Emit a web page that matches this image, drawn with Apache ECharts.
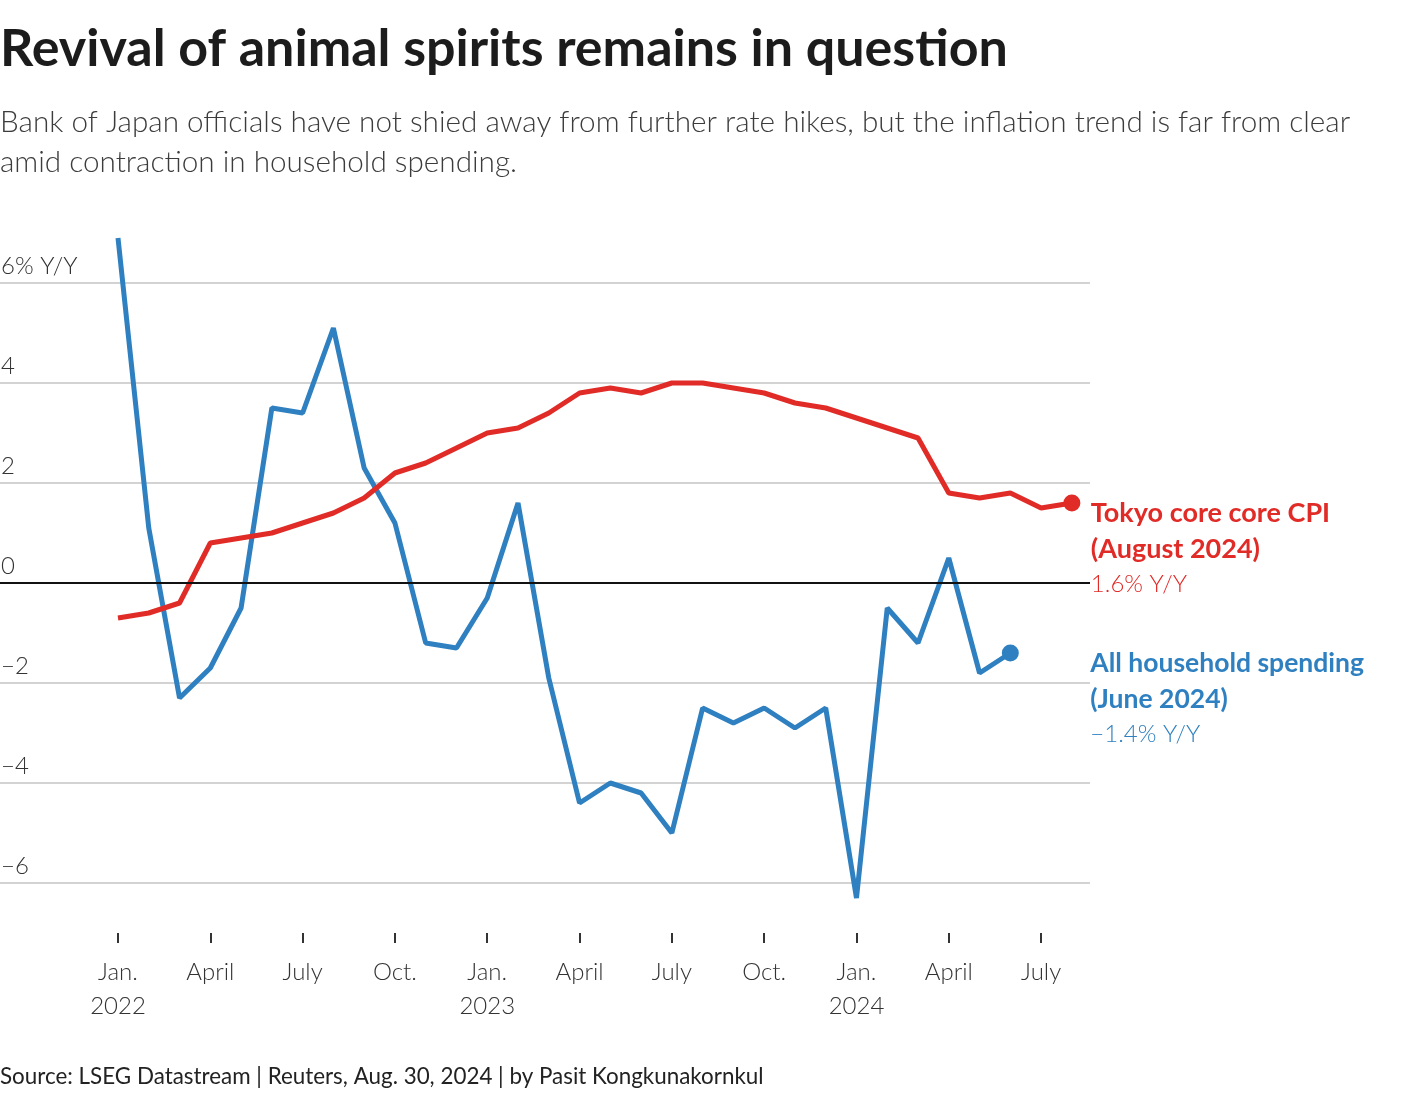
<!DOCTYPE html>
<html>
<head>
<meta charset="utf-8">
<title>Revival of animal spirits remains in question</title>
<script src="https://cdn.jsdelivr.net/npm/echarts@6/dist/echarts.min.js"></script>
<style>
  html, body { margin: 0; padding: 0; background: #fff; }
  #main { width: 1420px; height: 1100px; }
</style>
</head>
<body>
<div id="main"></div>
<script>
// months from Jan. 2022 (index 0) to Aug. 2024 (index 31)
var cpiValues = [
  -0.7, -0.6, -0.4, 0.8, 0.9, 1.0, 1.2, 1.4, 1.7, 2.2, 2.4, 2.7,
  3.0, 3.1, 3.4, 3.8, 3.9, 3.8, 4.0, 4.0, 3.9, 3.8, 3.6, 3.5,
  3.3, 3.1, 2.9, 1.8, 1.7, 1.8, 1.5, 1.6
]
// Jan. 2022 to June 2024
var spendingValues = [
  6.9, 1.1, -2.3, -1.7, -0.5, 3.5, 3.4, 5.1, 2.3, 1.2, -1.2, -1.3,
  -0.3, 1.6, -1.9, -4.4, -4.0, -4.2, -5.0, -2.5, -2.8, -2.5, -2.9, -2.5,
  -6.3, -0.5, -1.2, 0.5, -1.8, -1.4
]
var tickMonths = [0, 3, 6, 9, 12, 15, 18, 21, 24, 27, 30]
var tickLabels = ['Jan.\n2022', 'April', 'July', 'Oct.', 'Jan.\n2023', 'April', 'July', 'Oct.', 'Jan.\n2024', 'April', 'July']
var yTicks = [-6, -4, -2, 0, 2, 4, 6]

var RED = '#e02b27'
var BLUE = '#2f80c0'
var FONT = 'Lato'

function toPoints (values) {
  return values.map(function (v, i) { return [i, v] })
}

function fmtPct (v) {
  return (v < 0 ? '\u2212' + Math.abs(v) : String(v)) + '% Y/Y'
}

// last point gets a dot
function withEndDot (values) {
  var pts = toPoints(values)
  return pts.map(function (p, i) {
    if (i === pts.length - 1) return { value: p, symbol: 'circle', symbolSize: 17 }
    return { value: p, symbol: 'none' }
  })
}

var chart = echarts.init(document.getElementById('main'))

chart.setOption({
  animation: false,
  textStyle: { fontFamily: FONT },
  title: [{
    text: 'Revival of animal spirits remains in question',
    left: 0,
    top: 23,
    padding: 0,
    textStyle: { fontSize: 52, fontWeight: 'bold', color: '#1c1c1c', fontFamily: FONT }
  }, {
    text: 'Bank of Japan officials have not shied away from further rate hikes, but the inflation trend is far from clear\namid contraction in household spending.',
    left: 0,
    top: 102,
    padding: 0,
    textStyle: { fontSize: 29.7, fontWeight: 300, color: '#3c3c3c', lineHeight: 40, fontFamily: FONT }
  }, {
    text: 'Source: LSEG Datastream | Reuters, Aug. 30, 2024 | by Pasit Kongkunakornkul',
    left: 0,
    top: 1066,
    padding: 0,
    textStyle: { fontSize: 22.4, fontWeight: 'normal', color: '#222', fontFamily: FONT }
  }],
  grid: { left: 0, top: 283, width: 1090, height: 600, containLabel: false, outerBoundsMode: 'none' },
  xAxis: {
    type: 'value',
    min: -118 / 30.77,
    max: (1090 - 118) / 30.77,
    offset: 50,
    axisLine: { show: false, onZero: false },
    splitLine: { show: false },
    axisTick: {
      show: true,
      customValues: tickMonths,
      length: 10,
      lineStyle: { color: '#333', width: 2 }
    },
    axisLabel: {
      customValues: tickMonths,
      margin: 22,
      fontSize: 24,
      lineHeight: 34,
      color: '#333',
      fontWeight: 300,
      formatter: function (v) {
        var k = tickMonths.indexOf(Math.round(v))
        return k >= 0 ? tickLabels[k] : ''
      }
    }
  },
  yAxis: {
    type: 'value',
    min: -6,
    max: 6,
    interval: 2,
    axisLine: { show: false },
    axisTick: { show: false },
    splitLine: { lineStyle: { color: '#c4c4c4', width: 1.5 } },
    axisLabel: {
      inside: true,
      margin: 1,
      verticalAlign: 'bottom',
      padding: [0, 0, 5, 0],
      fontSize: 24,
      color: '#333',
      fontWeight: 300,
      formatter: function (v) {
        if (v === yTicks[yTicks.length - 1]) return v + '% Y/Y'
        return v < 0 ? '\u2212' + Math.abs(v) : String(v)
      }
    }
  },
  series: [{
    name: 'All household spending',
    type: 'line',
    clip: false,
    data: withEndDot(spendingValues),
    lineStyle: { color: BLUE, width: 5 },
    itemStyle: { color: BLUE },
    z: 3,
    endLabel: {
      show: true,
      offset: [72, -8],
      verticalAlign: 'top',
      formatter: function () {
        return '{b|All household spending}\n{b|(June 2024)}\n{r|' + fmtPct(spendingValues[spendingValues.length - 1]) + '}'
      },
      rich: {
        b: { fontSize: 26.5, fontWeight: 'bold', color: BLUE, lineHeight: 36, fontFamily: FONT },
        r: { fontSize: 24, fontWeight: 300, color: BLUE, lineHeight: 34, fontFamily: FONT }
      }
    },
    markLine: {
      silent: true,
      symbol: 'none',
      label: { show: false },
      lineStyle: { color: '#111', width: 2, type: 'solid' },
      data: [{ yAxis: 0 }]
    }
  }, {
    name: 'Tokyo core core CPI',
    type: 'line',
    clip: false,
    data: withEndDot(cpiValues),
    lineStyle: { color: RED, width: 5 },
    itemStyle: { color: RED },
    z: 4,
    endLabel: {
      show: true,
      offset: [11, -8],
      verticalAlign: 'top',
      formatter: function () {
        return '{b|Tokyo core core CPI}\n{b|(August 2024)}\n{r|' + fmtPct(cpiValues[cpiValues.length - 1]) + '}'
      },
      rich: {
        b: { fontSize: 27, fontWeight: 'bold', color: RED, lineHeight: 36, fontFamily: FONT },
        r: { fontSize: 24, fontWeight: 300, color: RED, lineHeight: 34, fontFamily: FONT }
      }
    }
  }]
})
</script>
</body>
</html>
